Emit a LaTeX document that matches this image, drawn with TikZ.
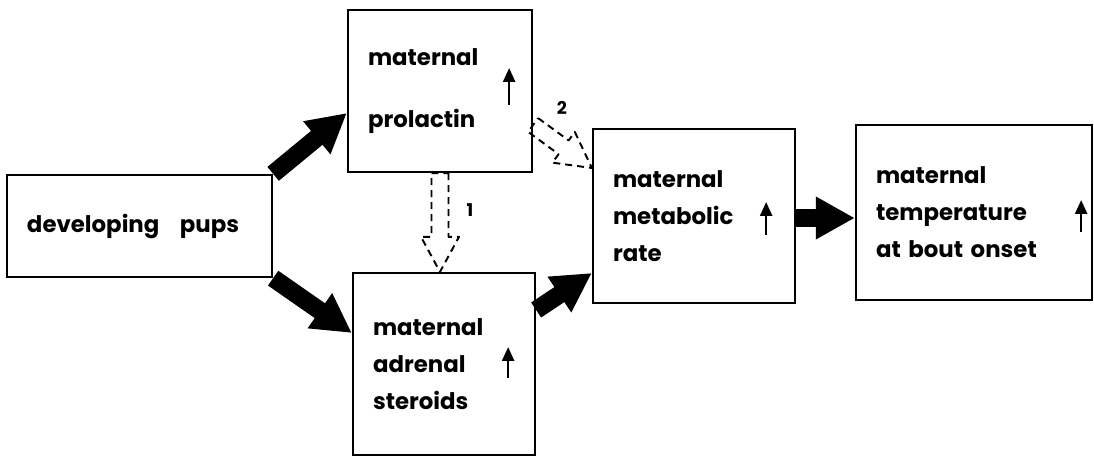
\documentclass[tikz,border=0pt]{standalone}
\usepackage{fontspec}
\setmainfont{Poppins}
\usetikzlibrary{arrows.meta,calc}

% dashed open arrow from #1 to #2 (both named coordinates)
\newcommand{\hollowarrow}[2]{%
  \coordinate (#1n) at ($(#2)!7mm!(#1)$);
  \draw[hollow] ($(#1)!1.7mm!90:(#2)$) -- ($(#1n)!1.7mm!-90:(#1)$)
    -- ($(#1n)!3.8mm!-90:(#1)$) -- (#2) -- ($(#1n)!3.8mm!90:(#1)$)
    -- ($(#1n)!1.7mm!90:(#1)$) -- ($(#1)!1.7mm!-90:(#2)$) -- cycle;}

\begin{document}
\begin{tikzpicture}[
    box/.style={draw, line width=1.3pt, align=left, inner xsep=4mm, inner ysep=0pt,
                font=\fontsize{13}{21}\selectfont\bfseries},
    fat/.style={line width=3.6mm, -{Triangle[width=8mm,length=7.8mm]}},
    hollow/.style={line width=1.1pt, dash pattern=on 1.4mm off 1mm, line join=round},
    uparr/.style={line width=1.4pt, -{Triangle[width=2.4mm,length=2.8mm]}},
    num/.style={font=\fontsize{10}{12}\selectfont\bfseries}
]
    \useasboundingbox (0,0) rectangle (21.88,9.12);

    % the five boxes
    \node[box, text width=4.5cm, minimum width=5.3cm, minimum height=2.04cm] (pups) at (2.79,4.60)
        {developing\hspace{0.9em}pups};
    \node[box, text width=2.88cm, minimum width=3.68cm, minimum height=3.24cm] (prolactin) at (8.80,7.30)
        {maternal\\[5mm]prolactin};
    \node[box, text width=2.84cm, minimum width=3.64cm, minimum height=3.64cm] (adrenal) at (8.88,1.84)
        {maternal\\adrenal\\steroids};
    \node[box, text width=3.24cm, minimum width=4.04cm, minimum height=3.48cm] (metabolic) at (13.88,4.80)
        {maternal\\metabolic\\rate};
    \node[box, text width=3.92cm, minimum width=4.72cm, minimum height=3.50cm] (temperature) at (19.48,4.87)
        {maternal\\temperature\\at bout onset};

    % increase marks
    \draw[uparr] ([shift={(-4.8mm,-2.8mm)}]prolactin.east) -- ++(0,7.4mm);
    \draw[uparr] ([shift={(-5.6mm,-2.8mm)}]adrenal.east) -- ++(0,6.2mm);
    \draw[uparr] ([shift={(-6mm,-3.8mm)}]metabolic.east) -- ++(0,6.6mm);
    \draw[uparr] ([shift={(-2.4mm,-3.9mm)}]temperature.east) -- ++(0,6.4mm);

    % solid pathway
    \draw[fat] (pups.north east) -- ([yshift=-4.4mm]prolactin.west);
    \draw[fat] (pups.south east) -- ([yshift=6.2mm]adrenal.west);
    \draw[fat] ([yshift=10.8mm]adrenal.east) -- ([yshift=-11.4mm]metabolic.west);
    \draw[fat] ([yshift=-0.4mm]metabolic.east) -- ([yshift=-0.4mm]metabolic.east -| temperature.west);

    % dashed links 1 and 2
    \coordinate (d1s) at (prolactin.south);
    \coordinate (d1t) at (prolactin.south |- adrenal.north);
    \hollowarrow{d1s}{d1t}
    \coordinate (d2s) at ([yshift=-6.8mm]prolactin.east);
    \coordinate (d2t) at ([yshift=9.6mm]metabolic.west);
    \hollowarrow{d2s}{d2t}
    \node[num] (lab1) at (9.40,4.92) {1};
    \node[num] (lab2) at (11.24,6.96) {2};
\end{tikzpicture}
\end{document}
